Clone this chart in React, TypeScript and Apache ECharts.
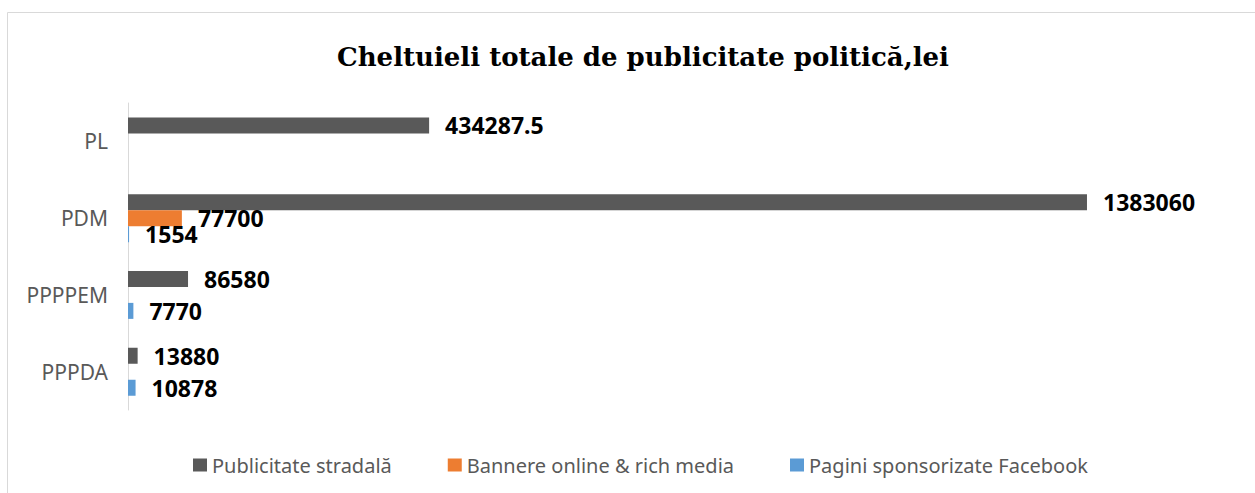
import React, { useEffect, useRef } from "react";
import * as echarts from "echarts";

const TITLE = "Cheltuieli totale de publicitate politică,lei";
const categories = ["PL", "PDM", "PPPPEM", "PPPDA"];
const seriesNames = [
  "Publicitate stradală",
  "Bannere online & rich media",
  "Pagini sponsorizate Facebook",
];
const stradala = [434287.5, 1383060, 86580, 13880];
const bannere = [null, 77700, null, null];
const facebook = [null, 1554, 7770, 10878];
const colors = ["#595959", "#ED7D31", "#5B9BD5"];

export default function App() {
  const ref = useRef<HTMLDivElement>(null);
  useEffect(() => {
    if (!ref.current) return;
    const chart = echarts.init(ref.current, null, { renderer: "svg" });
    const label = {
      show: true,
      position: "right",
      distance: 16,
      color: "#000",
      fontWeight: "bold",
      fontSize: 23,
      fontFamily: "Noto Sans",
    };
    const values = [stradala, bannere, facebook];
    chart.setOption({
      animation: false,
      backgroundColor: "#fff",
      title: {
        text: TITLE,
        left: 638,
        textAlign: "center",
        top: 39,
        textStyle: {
          fontFamily: "DejaVu Serif",
          fontWeight: "bold",
          fontSize: 26,
          color: "#000",
        },
      },
      graphic: [
        {
          type: "rect",
          shape: { x: 7.5, y: 12.5, width: 1400, height: 600 },
          style: { fill: "none", stroke: "#d9d9d9", lineWidth: 1 },
          silent: true,
        },
      ],
      legend: {
        left: 188,
        top: 450,
        itemWidth: 14,
        itemHeight: 13,
        itemGap: 56,
        icon: "rect",
        data: seriesNames,
        textStyle: { fontFamily: "Noto Sans", fontSize: 20, color: "#595959" },
      },
      grid: { left: 128, top: 103, bottom: 83, right: 17.6, containLabel: false },
      xAxis: {
        type: "value",
        min: 0,
        max: 1600000,
        show: false,
      },
      yAxis: {
        type: "category",
        inverse: true,
        data: categories,
        axisTick: { show: false },
        axisLine: { show: true, lineStyle: { color: "#d9d9d9", width: 1 } },
        axisLabel: {
          margin: 20,
          fontFamily: "Noto Sans",
          fontSize: 21,
          color: "#595959",
        },
      },
      series: seriesNames.map((name, i) => ({
        name,
        type: "bar",
        data: values[i],
        barWidth: 16,
        barGap: "0%",
        itemStyle: { color: colors[i] },
        label,
      })),
    });
    return () => chart.dispose();
  }, []);
  return (
    <div
      ref={ref}
      style={{ position: "fixed", left: 0, top: 0, width: 1255, height: 493 }}
    />
  );
}
